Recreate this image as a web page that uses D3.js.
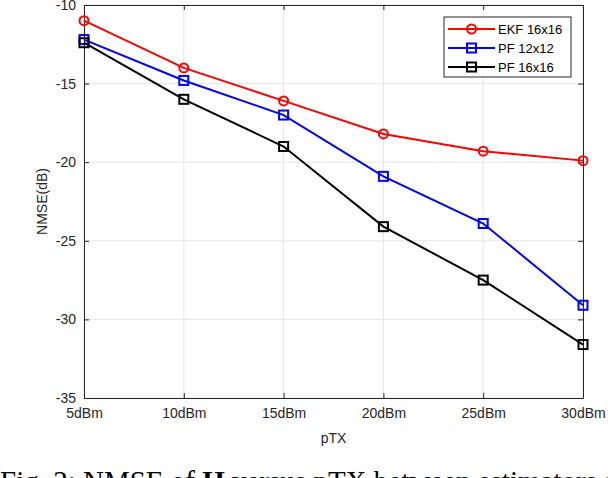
<!DOCTYPE html>
<html>
<head>
<meta charset="utf-8">
<script src="https://cdn.jsdelivr.net/npm/d3@7"></script>
<style>
  body { margin: 0; background: #fff; overflow: hidden; }
  svg { display: block; }
</style>
</head>
<body>
<div id="chart"></div>
<script>
// values
const txLabels = ["5dBm", "10dBm", "15dBm", "20dBm", "25dBm", "30dBm"];
const ekf16 = [-11.0, -14.0, -16.1, -18.2, -19.3, -19.9];
const pf12 = [-12.2, -14.8, -17.0, -20.9, -23.9, -29.1];
const pf16 = [-12.4, -16.0, -19.0, -24.1, -27.5, -31.6];
const yTicks = [-35, -30, -25, -20, -15, -10];

const seriesList = [
    { name: "EKF 16x16", values: ekf16, color: "#ff0000", marker: "circle" },
    { name: "PF 12x12", values: pf12, color: "#0000ff", marker: "square" },
    { name: "PF 16x16", values: pf16, color: "#000000", marker: "square" }
];

const W = 608, H = 478;
const margin = { top: 5, right: 25, bottom: 80, left: 84 };
const width = W - margin.left - margin.right;
const height = 398 - margin.top;

const svg = d3.select("#chart")
    .append("svg")
    .attr("width", W)
    .attr("height", H);

const g = svg.append("g")
    .attr("transform", `translate(${margin.left},${margin.top})`);

const x = d3.scalePoint()
    .domain(txLabels)
    .range([0, width]);

const y = d3.scaleLinear()
    .domain([-35, -10])
    .range([height, 0]);

// grid
g.append("g")
    .selectAll("line")
    .data(txLabels)
    .enter()
    .append("line")
    .attr("x1", d => x(d)).attr("x2", d => x(d))
    .attr("y1", 0).attr("y2", height)
    .attr("stroke", "#e6e6e6");
g.append("g")
    .selectAll("line")
    .data(yTicks)
    .enter()
    .append("line")
    .attr("x1", 0).attr("x2", width)
    .attr("y1", d => y(d)).attr("y2", d => y(d))
    .attr("stroke", "#e6e6e6");

// axes (matlab style: ticks inside, box on)
const tickFont = "Liberation Sans, Arial, sans-serif";
const xAxis = g.append("g")
    .attr("transform", `translate(0,${height})`)
    .call(d3.axisBottom(x).tickSizeInner(-5).tickSizeOuter(0).tickPadding(10));
const yAxis = g.append("g")
    .call(d3.axisLeft(y).tickValues(yTicks).tickFormat(d => String(d))
        .tickSizeInner(-5).tickSizeOuter(0).tickPadding(8));
const xTop = g.append("g")
    .call(d3.axisTop(x).tickSizeInner(-5).tickSizeOuter(0).tickFormat(""));
const yRight = g.append("g")
    .attr("transform", `translate(${width},0)`)
    .call(d3.axisRight(y).tickValues(yTicks).tickSizeInner(-5).tickSizeOuter(0).tickFormat(""));

[xAxis, yAxis, xTop, yRight].forEach(a => {
    a.select(".domain").attr("stroke", "#262626");
    a.selectAll(".tick line").attr("stroke", "#262626");
    a.selectAll("text")
        .attr("fill", "#262626")
        .style("font-family", tickFont)
        .style("font-size", "14px");
});

// lines and markers
const line = d3.line()
    .x((d, i) => x(txLabels[i]))
    .y(d => y(d));

seriesList.forEach(s => {
    g.append("path")
        .datum(s.values)
        .attr("d", line)
        .attr("fill", "none")
        .attr("stroke", s.color)
        .attr("stroke-width", 2);

    const pts = g.append("g");
    s.values.forEach((v, i) => {
        drawMarker(pts, s.marker, x(txLabels[i]), y(v), s.color);
    });
});

function drawMarker(sel, type, cx, cy, color) {
    if (type === "circle") {
        sel.append("circle")
            .attr("cx", cx).attr("cy", cy).attr("r", 4.5)
            .attr("fill", "none").attr("stroke", color).attr("stroke-width", 2);
    } else {
        sel.append("rect")
            .attr("x", cx - 4.5).attr("y", cy - 4.5)
            .attr("width", 9).attr("height", 9)
            .attr("fill", "none").attr("stroke", color).attr("stroke-width", 2);
    }
}

// legend
const legend = svg.append("g").attr("transform", "translate(444,17)");
legend.append("rect")
    .attr("x", 0).attr("y", 0)
    .attr("width", 127).attr("height", 60)
    .attr("fill", "#fff")
    .attr("stroke", "#262626")
    .attr("stroke-width", 1);

seriesList.forEach((s, i) => {
    const ly = 12 + i * 19;
    legend.append("line")
        .attr("x1", 4).attr("x2", 51)
        .attr("y1", ly).attr("y2", ly)
        .attr("stroke", s.color).attr("stroke-width", 2);
    drawMarker(legend, s.marker, 27.5, ly, s.color);
    legend.append("text")
        .attr("x", 54).attr("y", ly + 5)
        .attr("fill", "#000")
        .style("font-family", tickFont)
        .style("font-size", "13px")
        .text(s.name);
});

// axis titles
svg.append("text")
    .attr("x", margin.left + width / 2)
    .attr("y", 443)
    .attr("text-anchor", "middle")
    .attr("fill", "#262626")
    .style("font-family", tickFont)
    .style("font-size", "14px")
    .text("pTX");

svg.append("text")
    .attr("transform", "rotate(-90)")
    .attr("x", -(margin.top + height / 2))
    .attr("y", 47)
    .attr("text-anchor", "middle")
    .attr("fill", "#262626")
    .style("font-family", tickFont)
    .style("font-size", "14px")
    .text("NMSE(dB)");

// caption, only its top shows at the bottom edge
const cap = svg.append("text")
    .attr("x", 0)
    .attr("y", 491)
    .attr("fill", "#000")
    .style("font-family", "Liberation Serif, Times New Roman, serif")
    .style("font-size", "29px");
cap.append("tspan").text("Fig. 2: NMSE of ");
cap.append("tspan").style("font-weight", "bold").text("H");
cap.append("tspan").text(" versus pTX between estimators and with");
</script>
</body>
</html>
